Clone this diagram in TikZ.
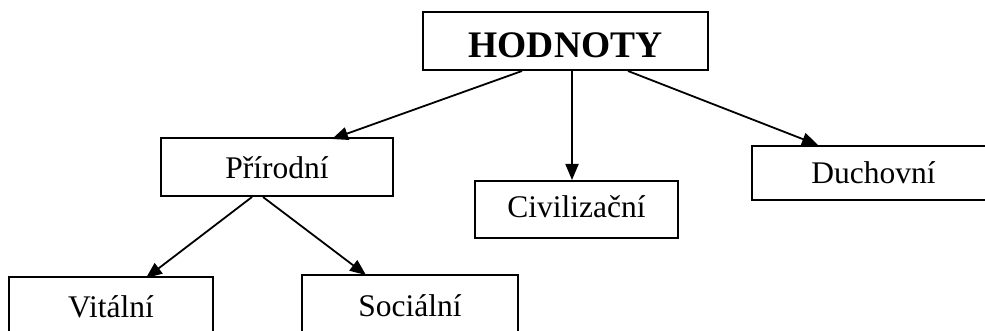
\documentclass[tikz,border=0pt]{standalone}
\usepackage{fontspec}
\setmainfont{Liberation Serif}
\usetikzlibrary{arrows.meta}
\begin{document}
\begin{tikzpicture}[x=1pt,y=-1pt,
 box/.style={draw,line width=2pt,rectangle,inner sep=0pt,text height=20.5pt,text depth=0pt,font=\fontsize{31.5}{31.5}\selectfont},
 arr/.style={line width=1.8pt,-{Triangle[length=16pt,width=13pt]}}]
\useasboundingbox (0,0) rectangle (985,331);
\clip (0,0) rectangle (985,331);
\node[box,minimum width=285pt,minimum height=58pt,text height=24.6pt,font=\fontsize{37.5}{37.5}\selectfont\bfseries] (h) at (565.5,41) {\raisebox{-4pt}{HODNOTY}};
\node[box,minimum width=232pt,minimum height=58pt] (p) at (277,167) {\raisebox{-1.5pt}{Přírodní}};
\node[box,minimum width=204pt,minimum height=60pt] (v) at (111,307) {Vitální};
\node[box,minimum width=216pt,minimum height=62pt] (s) at (410,306) {Sociální};
\node[box,minimum width=203pt,minimum height=57pt] (c) at (576.5,209.5) {\raisebox{2pt}{Civilizační}};
\node[box,minimum width=243pt,minimum height=54pt] (d) at (873.5,173) {Duchovní};
\draw[arr] ([xshift=-43.5pt]h.south) -- ([xshift=55pt,yshift=-2pt]p.north);
\draw[arr] ([xshift=6.5pt]h.south) -- ([xshift=-4.5pt]c.north);
\draw[arr] ([xshift=62.5pt]h.south) -- ([xshift=-55.5pt]d.north);
\draw[arr] ([xshift=-25pt]p.south) -- ([xshift=35pt,yshift=-2pt]v.north);
\draw[arr] ([xshift=-14pt]p.south) -- ([xshift=-44pt,yshift=-1pt]s.north);
\end{tikzpicture}
\end{document}
